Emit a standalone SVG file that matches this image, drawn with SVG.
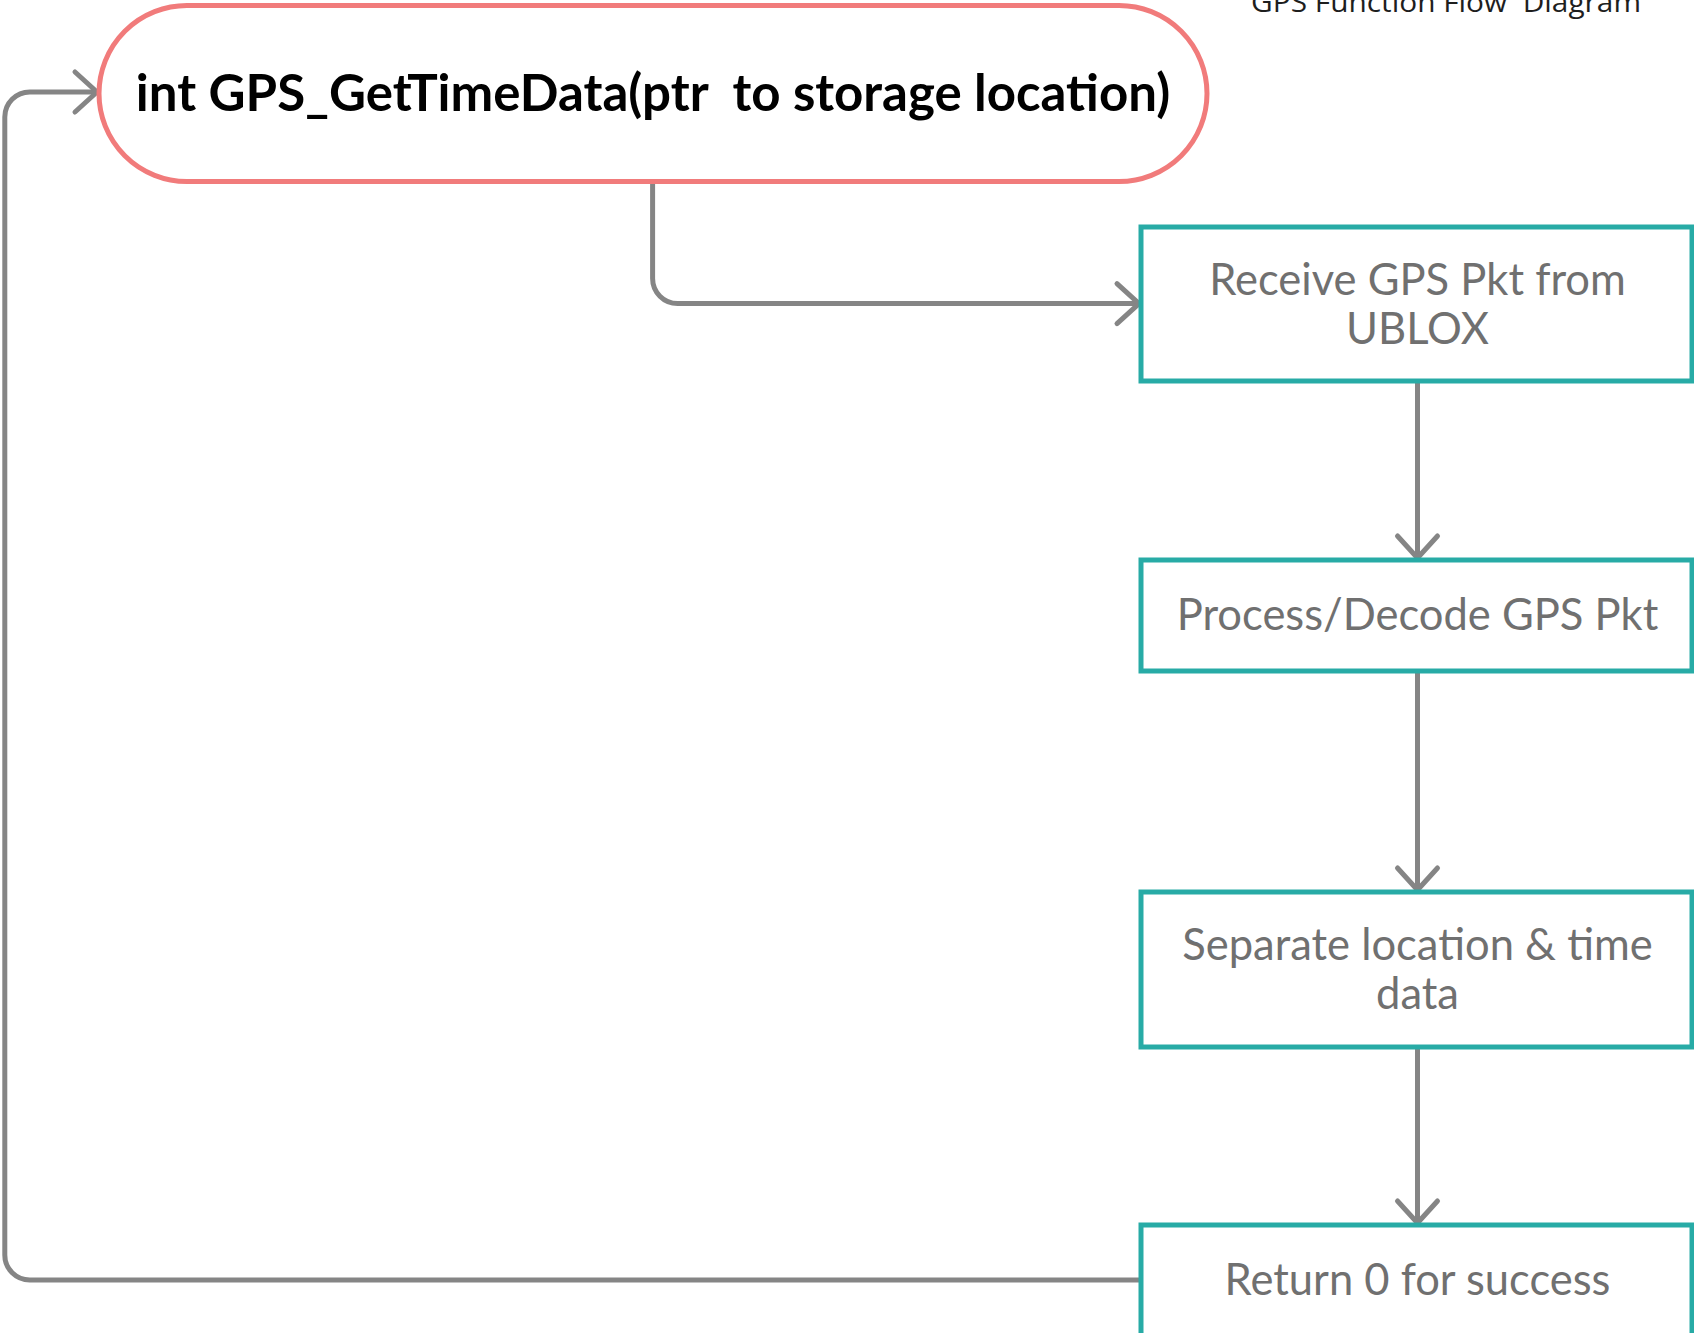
<svg xmlns="http://www.w3.org/2000/svg" width="1694" height="1333" viewBox="0 0 1694 1333">
<style>
.pill{fill:#fff;stroke:#F17B7B;stroke-width:5}
.box{fill:#fff;stroke:#28ABA6;stroke-width:5}
.ptxt{font-family:Lato,"Liberation Sans",sans-serif;font-weight:bold;font-size:51px;fill:#000;text-anchor:middle}
.btxt{font-family:Lato,"Liberation Sans",sans-serif;font-size:43.5px;fill:#707070;text-anchor:middle}
.title{font-family:"Open Sans","Liberation Sans",sans-serif;font-size:27px;fill:#1E1E1E;text-anchor:middle}
.conn{fill:none;stroke:#858585;stroke-width:5}
</style>
<defs>
<marker id="arr" markerUnits="userSpaceOnUse" viewBox="-26 -26 30 52" refX="0" refY="0" markerWidth="30" markerHeight="52" orient="auto" overflow="visible">
<path d="M -22 -20 L 0 0 L -22 20" fill="none" stroke="#858585" stroke-width="5" stroke-linecap="round" stroke-linejoin="round"/>
</marker>
</defs>
<rect width="1694" height="1333" fill="#fff"/>
<text class="title" x="1446" y="12" xml:space="preserve" textLength="390" lengthAdjust="spacingAndGlyphs">GPS Function Flow  Diagram</text>
<g id="connectors">
<path class="conn" d="M 652.6 181.5 V 278.6 A 25 25 0 0 0 677.6 303.6 H 1139" marker-end="url(#arr)"/>
<path class="conn" d="M 1417.5 381 V 558" marker-end="url(#arr)"/>
<path class="conn" d="M 1417.5 671 V 890" marker-end="url(#arr)"/>
<path class="conn" d="M 1417.5 1047 V 1223" marker-end="url(#arr)"/>
<path class="conn" d="M 1141 1280 H 30 A 25 25 0 0 1 4.8 1255 V 117 A 25 25 0 0 1 29.8 92 H 97" marker-end="url(#arr)"/>
</g>
<g id="start">
<rect class="pill" x="99" y="5.5" width="1108" height="176" rx="88" ry="88"/>
<text class="ptxt" x="653" y="111" xml:space="preserve">int GPS_GetTimeData(ptr  to storage location)</text>
</g>
<g id="receive">
<rect class="box" x="1141" y="227" width="551" height="154"/>
<text class="btxt" x="1417.5" y="295">Receive GPS Pkt from</text>
<text class="btxt" x="1417.5" y="344">UBLOX</text>
</g>
<g id="decode">
<rect class="box" x="1141" y="560" width="551" height="111"/>
<text class="btxt" x="1417.5" y="630">Process/Decode GPS Pkt</text>
</g>
<g id="separate">
<rect class="box" x="1141" y="892" width="551" height="155"/>
<text class="btxt" x="1417.5" y="960">Separate location &amp; time</text>
<text class="btxt" x="1417.5" y="1009">data</text>
</g>
<g id="return">
<rect class="box" x="1141" y="1225" width="551" height="112"/>
<text class="btxt" x="1417.5" y="1295">Return 0 for success</text>
</g>
</svg>
